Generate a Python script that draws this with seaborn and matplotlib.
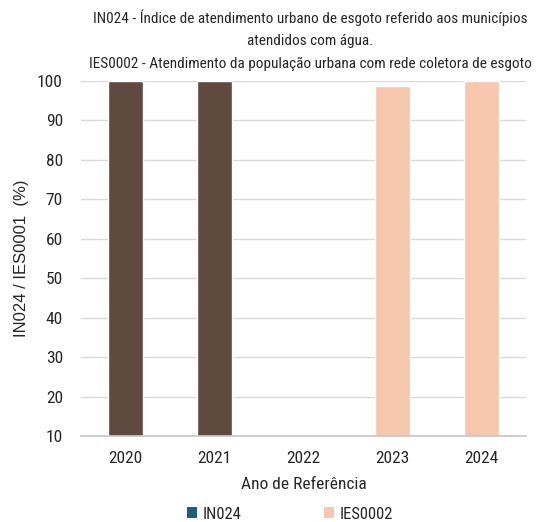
import matplotlib
matplotlib.use("Agg")
import matplotlib.pyplot as plt
from matplotlib.patches import Patch
from matplotlib.ticker import FixedLocator
import numpy as np
import pandas as pd
import seaborn as sns

years = ["2020", "2021", "2022", "2023", "2024"]
in024 = [100.0, 100.0, np.nan, np.nan, np.nan]
ies0002 = [np.nan, np.nan, np.nan, 98.7, 100.0]
series_names = ["IN024", "IES0002"]
yticks = [10, 20, 30, 40, 50, 60, 70, 80, 90, 100]

title = ("IN024 - Índice de atendimento urbano de esgoto referido aos municípios\n"
         "atendidos com água.\n"
         "IES0002 - Atendimento da população urbana com rede coletora de esgoto")

bar_colors = {"IN024": "#5E4A3E", "IES0002": "#F6C7AC"}
legend_colors = {"IN024": "#1B5E82", "IES0002": "#F6C7AC"}

df = pd.DataFrame({
    "ano": years * 2,
    "valor": in024 + ies0002,
    "serie": [series_names[0]] * len(years) + [series_names[1]] * len(years),
}).dropna()

sns.set_theme(style="white")
narrow = ["Roboto Condensed", "DejaVu Sans"]
plt.rcParams["font.family"] = narrow
text_color = "#262626"

fig = plt.figure(figsize=(5.37, 5.22), dpi=100)
ax = fig.add_axes([0.1508, 0.1648, 0.8287, 0.68])

sns.barplot(data=df, x="ano", y="valor", hue="serie", order=years,
            hue_order=series_names, palette=bar_colors, dodge=False,
            width=0.4, ax=ax, legend=False, saturation=1)

ax.set_ylim(10, 100)
ax.set_xlim(-0.5, len(years) - 0.5)
ax.set_yticks(yticks)
ax.yaxis.grid(True, color="#D9D9D9", linewidth=1)
ax.set_axisbelow(True)
for side in ["left", "right", "top"]:
    ax.spines[side].set_visible(False)
ax.spines["bottom"].set_color("#C8C8C8")
ax.tick_params(axis="y", length=0, pad=13, labelsize=12.5, labelcolor=text_color)
ax.tick_params(axis="x", which="major", length=0, pad=11, labelsize=12.5, labelcolor=text_color)
ax.xaxis.set_minor_locator(FixedLocator(np.arange(-0.5, len(years), 1.0)))
ax.tick_params(axis="x", which="minor", length=5, color="#C8C8C8", width=1)

ax.set_xlabel("Ano de Referência", fontsize=12.5, color=text_color, labelpad=8)
ax.set_ylabel("IN024 / IES0001  (%)", fontsize=12, color=text_color,
              family=["Liberation Sans", "DejaVu Sans"], labelpad=6)

fig.text(310 / 537, 1 - 10 / 522, title, ha="center", va="top", fontsize=11,
         color=text_color, linespacing=1.72)

handles = [Patch(facecolor=legend_colors[s], edgecolor="none", label=s) for s in series_names]
fig.legend(handles=handles, loc="lower center", bbox_to_anchor=(0.54, -0.028), ncol=2,
           frameon=False, fontsize=12, handlelength=0.6, handleheight=0.6,
           columnspacing=4.9, handletextpad=0.35)

fig.savefig("out.png", dpi=100)
